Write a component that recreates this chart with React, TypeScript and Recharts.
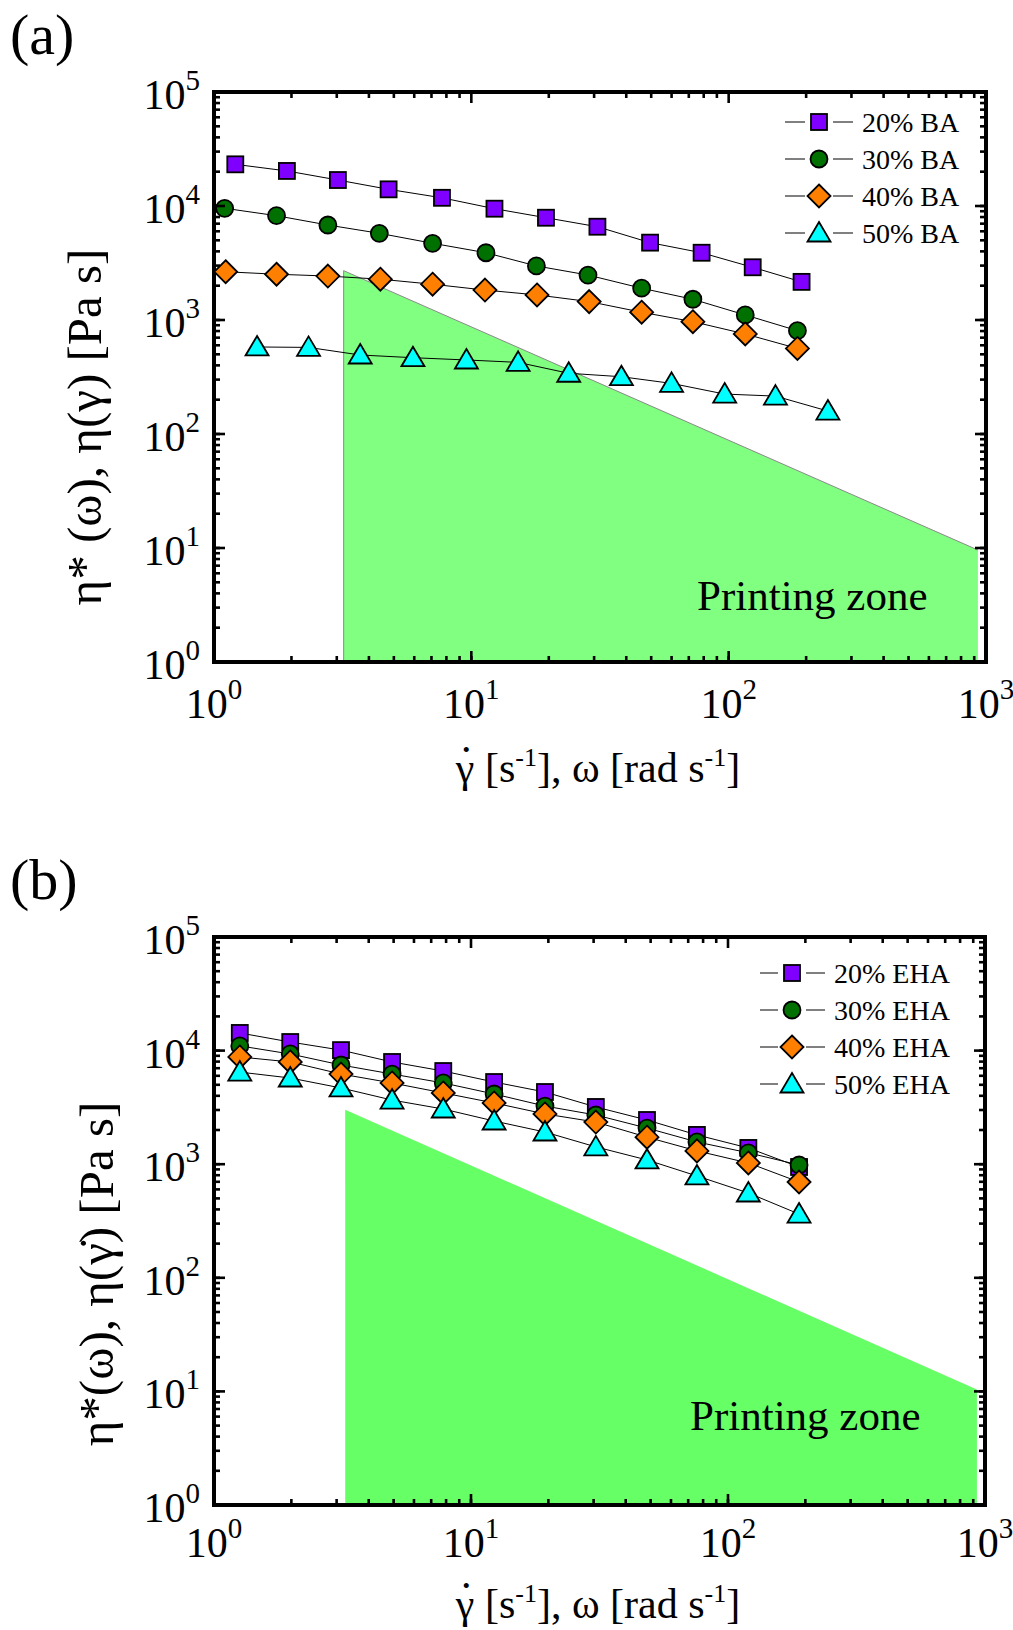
import React from 'react';
import { ComposedChart, Line, Scatter, Area, XAxis, YAxis, Legend } from 'recharts';

const FONT = "'Liberation Serif', 'Times New Roman', serif";

// (a) BA samples
const ba20X = [1.21, 1.92, 3.03, 4.77, 7.69, 12.3, 19.5, 30.9, 49.5, 78.5, 124, 192];
const ba20Y = [23200, 20300, 16900, 14000, 11800, 9470, 7890, 6580, 4770, 3890, 2900, 2160];
const ba30X = [1.1, 1.75, 2.77, 4.39, 7.07, 11.4, 17.9, 28.4, 45.9, 72.6, 116, 185];
const ba30Y = [9550, 8220, 6810, 5760, 4710, 3890, 2980, 2480, 1900, 1520, 1107, 806];
const ba40X = [1.11, 1.75, 2.77, 4.43, 7.07, 11.3, 18.0, 28.7, 45.9, 72.6, 116, 185];
const ba40Y = [2650, 2520, 2430, 2280, 2060, 1830, 1660, 1450, 1170, 967, 754, 563];
const ba50X = [1.47, 2.33, 3.7, 5.93, 9.57, 15.2, 23.9, 38.3, 60.0, 96.5, 152, 243];
const ba50Y = [580, 575, 493, 467, 446, 425, 341, 318, 278, 224, 215, 159];

// (b) EHA samples, same shear rates
const ehaX = [1.26, 1.98, 3.12, 4.93, 7.8, 12.3, 19.4, 30.6, 48.4, 75.7, 120, 189];
const eha20Y = [14300, 11900, 10100, 7940, 6610, 5290, 4320, 3190, 2450, 1810, 1390, 945];
const eha30Y = [11000, 9340, 7470, 6220, 5190, 4150, 3250, 2710, 2080, 1570, 1260, 984];
const eha40Y = [8790, 7940, 6220, 5190, 4240, 3460, 2770, 2350, 1730, 1310, 1025, 697];
const eha50Y = [6470, 5740, 4690, 3670, 3060, 2400, 1920, 1420, 1090, 788, 558, 364];

// printing zone outlines
const zoneAX = [3.19, 3.19, 930];
const zoneAY = [1, 2710, 9.6];
const zoneBX = [3.24, 930];
const zoneBY = [3020, 10.4];

const baNames = ['20% BA', '30% BA', '40% BA', '50% BA'];
const ehaNames = ['20% EHA', '30% EHA', '40% EHA', '50% EHA'];

const xTicks = [1, 2, 3, 4, 5, 6, 7, 8, 9, 10, 20, 30, 40, 50, 60, 70, 80, 90, 100, 200, 300, 400, 500, 600, 700, 800, 900, 1000];
const yTicks = [
  1, 2, 3, 4, 5, 6, 7, 8, 9,
  10, 20, 30, 40, 50, 60, 70, 80, 90,
  100, 200, 300, 400, 500, 600, 700, 800, 900,
  1000, 2000, 3000, 4000, 5000, 6000, 7000, 8000, 9000,
  10000, 20000, 30000, 40000, 50000, 60000, 70000, 80000, 90000,
  100000,
];

const COLORS = ['#8000ff', '#007000', '#ff8000', '#00ffff'];
const KINDS = ['square', 'circle', 'diamond', 'triangle'];

const rows = (xs: number[], ys: number[]) => xs.map((x, i) => ({ x, y: ys[i] }));

const seriesA = [rows(ba20X, ba20Y), rows(ba30X, ba30Y), rows(ba40X, ba40Y), rows(ba50X, ba50Y)];
const seriesB = [rows(ehaX, eha20Y), rows(ehaX, eha30Y), rows(ehaX, eha40Y), rows(ehaX, eha50Y)];

const W = 1013;
const H = 815;
const AXIS = { stroke: '#000', strokeWidth: 4, strokeLinecap: 'square' as const };
const TICK = { stroke: '#000', strokeWidth: 2.6, fill: 'none' };
const MINOR = 6; // inward length of every tick (negative tickSize)
const MAJOR = 11;

const isMajor = (v: number) => Math.abs(Math.log10(v) - Math.round(Math.log10(v))) < 1e-6;

const Marker = ({ kind, cx, cy, fill }: any) => {
  const common = { fill, stroke: '#000', strokeWidth: 1.8 };
  if (kind === 'square') return <rect x={cx - 8} y={cy - 8} width={16} height={16} {...common} />;
  if (kind === 'circle') return <circle cx={cx} cy={cy} r={8.5} {...common} />;
  if (kind === 'diamond')
    return <path d={`M${cx},${cy - 11.5}L${cx + 11.5},${cy}L${cx},${cy + 11.5}L${cx - 11.5},${cy}Z`} {...common} />;
  return <path d={`M${cx},${cy - 11}L${cx + 11.5},${cy + 8.5}L${cx - 11.5},${cy + 8.5}Z`} {...common} />;
};

const Pow = ({ v }: { v: number }) => (
  <>
    10<tspan dy={-19} fontSize={29}>{Math.round(Math.log10(v))}</tspan>
  </>
);

// bottom axis: library draws the short inward tick; decades get a longer one and a 10^n label.
// the top frame ticks are mirrored from the same x positions, plotH above.
const BottomTick = (p: any) => {
  const v = p.payload.value;
  const y0 = p.y + MINOR;
  const top = y0 - p.plotH;
  const major = isMajor(v);
  return (
    <g>
      <path d={`M${p.x},${top}V${top + (major ? MAJOR : MINOR)}`} {...TICK} />
      {major && <path d={`M${p.x},${y0}V${y0 - MAJOR}`} {...TICK} />}
      {major && (
        <text x={p.x} y={y0 + p.gap} textAnchor="middle" fontFamily={FONT} fontSize={42} fill="#000">
          <Pow v={v} />
        </text>
      )}
    </g>
  );
};

const LeftTick = (p: any) => {
  const v = p.payload.value;
  const x0 = p.x - MINOR;
  return isMajor(v) ? (
    <g>
      <path d={`M${x0},${p.y}H${x0 + MAJOR}`} {...TICK} />
      <text x={x0 - 14} y={p.y + 17} textAnchor="end" fontFamily={FONT} fontSize={42} fill="#000">
        <Pow v={v} />
      </text>
    </g>
  ) : (
    <g />
  );
};

const RightTick = (p: any) => {
  const x0 = p.x + MINOR;
  return isMajor(p.payload.value) ? <path d={`M${x0},${p.y}H${x0 - MAJOR}`} {...TICK} /> : <g />;
};

const LegendBox = ({ names, lx1, lx2, mx, tx }: any) => (
  <svg width={250} height={150} style={{ display: 'block', overflow: 'visible' }}>
    {names.map((name: string, i: number) => {
      const cy = 18 + i * 37;
      return (
        <g key={name}>
          <line x1={lx1} x2={mx - 14} y1={cy} y2={cy} stroke="#000" strokeWidth={1} />
          <line x1={mx + 14} x2={lx2} y1={cy} y2={cy} stroke="#000" strokeWidth={1} />
          <Marker kind={KINDS[i]} cx={mx} cy={cy} fill={COLORS[i]} />
          <text x={tx} y={cy + 9.5} fontFamily={FONT} fontSize={28} fill="#000">
            {name}
          </text>
        </g>
      );
    })}
  </svg>
);

// gamma with its dot drawn above it, then the units
const XTitle = ({ x, y }: any) => (
  <text x={x} y={y} textAnchor="middle" fontFamily={FONT} fontSize={42} fill="#000">
    γ<tspan dx={-13.5} dy={-30}>.</tspan>
    <tspan dx={3} dy={30}> [s</tspan>
    <tspan dy={-16} fontSize={26}>-1</tspan>
    <tspan dy={16}>], ω [rad s</tspan>
    <tspan dy={-16} fontSize={26}>-1</tspan>
    <tspan dy={16}>]</tspan>
  </text>
);

const axisCommon = {
  type: 'number' as const,
  scale: 'log' as const,
  allowDataOverflow: true,
  interval: 0,
  tickSize: -MINOR,
  tickMargin: 0,
  axisLine: AXIS,
  tickLine: TICK,
};

const TOP_H = 20;
const BOTTOM_H = 30;

const Panel = ({ tag, series, names, zone, zoneFill, zoneStroke, margin, labelGap, legend, texts }: any) => {
  const plotH = H - margin.top - margin.bottom - TOP_H - BOTTOM_H;
  return (
    <div style={{ position: 'relative', width: W, height: H }}>
      <ComposedChart width={W} height={H} margin={margin}>
        <Area
          xAxisId="b"
          yAxisId="l"
          data={zone}
          dataKey="y"
          type="linear"
          baseValue={1}
          fill={zoneFill}
          fillOpacity={1}
          stroke={zoneStroke}
          strokeWidth={1}
          isAnimationActive={false}
        />
        {series.map((d: any, i: number) => (
          <Line
            key={'l' + i}
            xAxisId="b"
            yAxisId="l"
            data={d}
            dataKey="y"
            type="linear"
            stroke="#000"
            strokeWidth={1}
            dot={false}
            activeDot={false}
            isAnimationActive={false}
          />
        ))}
        {series.map((d: any, i: number) => (
          <Scatter
            key={'s' + i}
            xAxisId="b"
            yAxisId="l"
            data={d}
            dataKey="y"
            shape={(p: any) => <Marker kind={KINDS[i]} cx={p.cx} cy={p.cy} fill={COLORS[i]} />}
            isAnimationActive={false}
          />
        ))}
        <XAxis
          {...axisCommon}
          xAxisId="b"
          dataKey="x"
          domain={[1, 1000]}
          ticks={xTicks}
          height={BOTTOM_H}
          tick={(p: any) => <BottomTick {...p} gap={labelGap} plotH={plotH} />}
        />
        <XAxis
          xAxisId="t"
          orientation="top"
          type="number"
          domain={[1, 1000]}
          height={TOP_H}
          axisLine={AXIS}
          tickLine={false}
          tick={false}
        />
        <YAxis
          {...axisCommon}
          yAxisId="l"
          dataKey="y"
          domain={[1, 100000]}
          ticks={yTicks}
          width={60}
          tick={(p: any) => <LeftTick {...p} />}
        />
        <YAxis
          {...axisCommon}
          yAxisId="r"
          orientation="right"
          domain={[1, 100000]}
          ticks={yTicks}
          width={20}
          tick={(p: any) => <RightTick {...p} />}
        />
        <Legend
          layout="vertical"
          align="center"
          verticalAlign="middle"
          wrapperStyle={{ left: legend.left, top: legend.top, width: 250 }}
          content={() => <LegendBox names={names} {...legend} />}
        />
      </ComposedChart>
      <svg width={W} height={H} style={{ position: 'absolute', left: 0, top: 0, pointerEvents: 'none' }}>
        <text x={10} y={texts.tagY} fontFamily={FONT} fontSize={58} fill="#000">
          {tag}
        </text>
        <XTitle x={598} y={texts.xTitleY} />
        <text
          transform={`translate(${texts.yTitleX},${texts.yTitleY}) rotate(-90)`}
          textAnchor="middle"
          fontFamily={FONT}
          fontSize={49}
          fill="#000"
        >
          {texts.yTitle}
        </text>
        <text x={texts.zoneX} y={texts.zoneY} fontFamily={FONT} fontSize={43} fill="#000">
          Printing zone
        </text>
      </svg>
    </div>
  );
};

export default function App() {
  return (
    <div style={{ position: 'absolute', left: 0, top: 0, width: W, height: 1630, background: '#fff' }}>
      <Panel
        tag="(a)"
        series={seriesA}
        names={baNames}
        zone={rows(zoneAX, zoneAY)}
        zoneFill="#80ff80"
        zoneStroke="#8a8a8a"
        margin={{ top: 72, left: 154, right: 7, bottom: 123 }}
        labelGap={56}
        legend={{ left: 780, top: 104, lx1: 5, lx2: 73, mx: 39, tx: 82 }}
        texts={{
          tagY: 54,
          xTitleY: 782,
          yTitleX: 101,
          yTitleY: 427,
          yTitle: 'η* (ω), η(γ) [Pa s]',
          zoneX: 697,
          zoneY: 610,
        }}
      />
      <Panel
        tag="(b)"
        series={seriesB}
        names={ehaNames}
        zone={rows(zoneBX, zoneBY)}
        zoneFill="#66ff66"
        zoneStroke="none"
        margin={{ top: 102, left: 154, right: 8, bottom: 95 }}
        labelGap={52}
        legend={{ left: 755, top: 140, lx1: 5, lx2: 70, mx: 37, tx: 79 }}
        texts={{
          tagY: 84,
          xTitleY: 803,
          yTitleX: 113,
          yTitleY: 459,
          yTitle: 'η*(ω), η(γ̇) [Pa s]',
          zoneX: 690,
          zoneY: 615,
        }}
      />
    </div>
  );
}
